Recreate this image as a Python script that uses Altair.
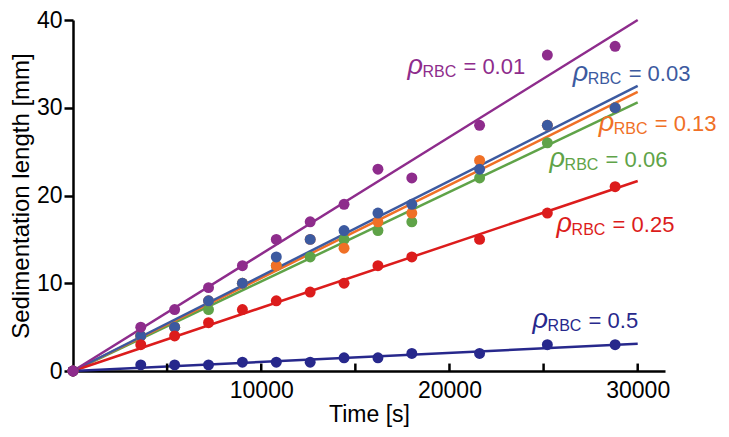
import altair as alt
import pandas as pd

times = [0, 3600, 5400, 7200, 9000, 10800, 12600, 14400, 16200, 18000, 21600, 25200, 28800]

# drawing order: green, orange, blue, red, navy, purple (last on top)
series = ["0.06", "0.13", "0.03", "0.25", "0.5", "0.01"]
colors = ["#5FA348", "#F07026", "#3C5AA0", "#DC1C1C", "#27288C", "#8E2C8C"]

vals_006 = [0, 4, 5, 7, 10, 12, 13, 15, 16, 17, 22, 26, 30]
vals_013 = [0, 4, 5, 8, 10, 12, 15, 14, 17, 18, 24, 28, 30]
vals_003 = [0, 4, 5, 8, 10, 13, 15, 16, 18, 19, 23, 28, 30]
vals_025 = [0, 3, 4, 5.5, 7, 8, 9, 10, 12, 13, 15, 18, 21]
vals_05 = [0, 0.7, 0.7, 0.7, 1, 1, 1, 1.5, 1.5, 2, 2, 3, 3]
vals_001 = [0, 5, 7, 9.5, 12, 15, 17, 19, 23, 22, 28, 36, 37]
all_vals = [vals_006, vals_013, vals_003, vals_025, vals_05, vals_001]

# fitted lines through origin: value reached at line end
line_t = [0, 30000]
line_end = [30.6, 31.8, 32.5, 21.65, 3.1, 40.0]

# label anchors (data coordinates)
label_x = [25319, 27926, 26543, 25691, 24415, 17766]
label_y = [23.2, 27.4, 33.1, 15.8, 4.87, 33.8]

x_tick_values = [5000, 10000, 15000, 20000, 25000, 30000]
x_label_values = [10000, 20000, 30000]
y_values = [0, 10, 20, 30, 40]

pts = pd.DataFrame(
    [{"t": t, "v": v, "s": s, "o": i * 100 + j}
     for i, (s, vals) in enumerate(zip(series, all_vals))
     for j, (t, v) in enumerate(zip(times, vals))]
)
lines = pd.DataFrame(
    [{"t": t, "v": end * t / line_t[1], "s": s, "o": i}
     for i, (s, end) in enumerate(zip(series, line_end))
     for t in line_t]
)
labels = pd.DataFrame(
    {"lx": label_x, "ly": label_y, "s": series,
     "eq": ["= " + s for s in series]}
)
ticks = pd.DataFrame({"t": x_tick_values})

FONT = "Liberation Sans"
xscale = alt.Scale(domain=[0, 31450], nice=False, zero=False)
yscale = alt.Scale(domain=[0, 40], nice=False)
cscale = alt.Scale(domain=series, range=colors)

xaxis = alt.Axis(values=x_label_values, format="d", title="Time [s]",
                 ticks=False, tickSize=0, labelPadding=8, grid=False,
                 domainColor="black", domainWidth=2.5, labelColor="black",
                 labelFontSize=23, labelFont=FONT, titleFont=FONT,
                 titleFontSize=23, titleFontWeight="normal", titleColor="black",
                 titlePadding=1, labelFlush=False)
yaxis = alt.Axis(values=y_values, title="Sedimentation length [mm]",
                 tickSize=9, tickWidth=2.5, tickColor="black", labelPadding=2,
                 grid=False, domainColor="black", domainWidth=2.5,
                 labelColor="black", labelFontSize=23, labelFont=FONT,
                 titleFont=FONT, titleFontSize=24, titleFontWeight="normal",
                 titleColor="black", titlePadding=3)

line_layer = alt.Chart(lines).mark_line(strokeWidth=2.5).encode(
    x=alt.X("t:Q", scale=xscale, axis=xaxis),
    y=alt.Y("v:Q", scale=yscale, axis=yaxis),
    color=alt.Color("s:N", scale=cscale, legend=None),
    detail="s:N",
    order="o:Q",
)
point_layer = alt.Chart(pts).mark_circle(size=120, opacity=1).encode(
    x=alt.X("t:Q", scale=xscale),
    y=alt.Y("v:Q", scale=yscale),
    color=alt.Color("s:N", scale=cscale, legend=None),
    order="o:Q",
)
tick_layer = alt.Chart(ticks).mark_rule(color="black", strokeWidth=2.5).encode(
    x=alt.X("t:Q", scale=xscale),
    y=alt.datum(0),
    y2=alt.datum(0.85),
)
rho = alt.Chart(labels).mark_text(align="left", baseline="alphabetic",
                                  fontSize=27, font=FONT, fontStyle="italic").encode(
    x=alt.X("lx:Q", scale=xscale), y=alt.Y("ly:Q", scale=yscale),
    text=alt.value("ρ"),
    color=alt.Color("s:N", scale=cscale, legend=None),
)
sub = alt.Chart(labels).mark_text(align="left", baseline="alphabetic",
                                  fontSize=16, font=FONT, dx=15, dy=3).encode(
    x=alt.X("lx:Q", scale=xscale), y=alt.Y("ly:Q", scale=yscale),
    text=alt.value("RBC"),
    color=alt.Color("s:N", scale=cscale, legend=None),
)
eq = alt.Chart(labels).mark_text(align="left", baseline="alphabetic",
                                 fontSize=22, font=FONT, dx=56).encode(
    x=alt.X("lx:Q", scale=xscale), y=alt.Y("ly:Q", scale=yscale),
    text="eq:N",
    color=alt.Color("s:N", scale=cscale, legend=None),
)

chart = alt.layer(line_layer, tick_layer, point_layer, rho, sub, eq).properties(
    width=592, height=351,
    autosize=alt.AutoSizeParams(type="none"),
    padding={"left": 65, "top": 12, "right": 56, "bottom": 58},
    background="white",
).configure_view(stroke=None)

chart.save("out.html", embed_options={"renderer": "svg", "actions": False})
